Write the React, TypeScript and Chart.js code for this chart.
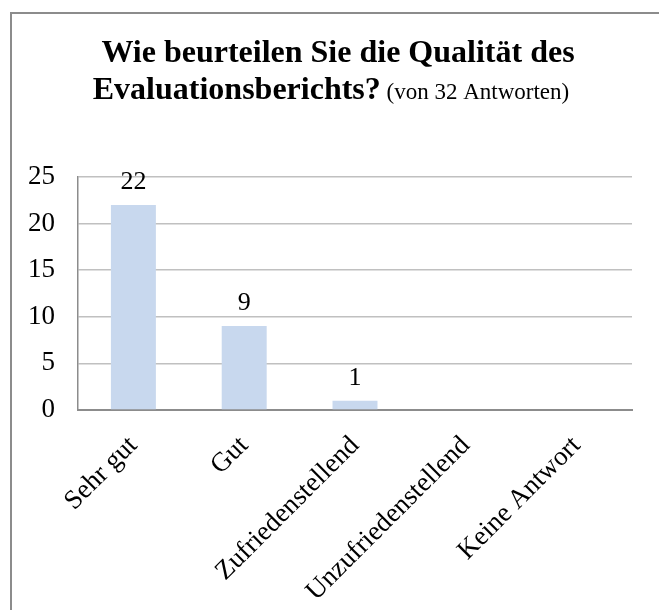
import React, { useEffect, useRef } from 'react';
import { Chart, registerables } from 'chart.js';

Chart.register(...registerables);

const categories = ['Sehr gut', 'Gut', 'Zufriedenstellend', 'Unzufriedenstellend', 'Keine Antwort'];
const counts = [22, 9, 1, 0, 0];
const yTickValues = [0, 5, 10, 15, 20, 25];
const titleLine1 = 'Wie beurteilen Sie die Qualität des';
const titleLine2Bold = 'Evaluationsberichts?';
const titleLine2Normal = '(von 32 Antworten)';

const FONT = '"Liberation Serif", "Times New Roman", Times, serif';
const W = 659;
const H = 610;

const framePlugin = {
  id: 'frameAndTitle',
  beforeDraw(chart: any) {
    const ctx = chart.ctx;
    ctx.save();
    ctx.fillStyle = '#ffffff';
    ctx.fillRect(0, 0, chart.width, chart.height);
    ctx.strokeStyle = '#8c8c8c';
    ctx.lineWidth = 2;
    ctx.beginPath();
    ctx.moveTo(11, chart.height);
    ctx.lineTo(11, 13);
    ctx.lineTo(chart.width, 13);
    ctx.stroke();

    ctx.fillStyle = '#000000';
    ctx.textBaseline = 'alphabetic';
    ctx.font = `bold 32px ${FONT}`;
    ctx.textAlign = 'center';
    ctx.fillText(titleLine1, 338, 62);

    ctx.textAlign = 'left';
    const bw = ctx.measureText(titleLine2Bold).width;
    ctx.font = `23px ${FONT}`;
    const sw = ctx.measureText(' ').width;
    const nw = ctx.measureText(titleLine2Normal).width;
    const total = bw + sw + nw;
    const x0 = 331 - total / 2;
    ctx.font = `bold 32px ${FONT}`;
    ctx.fillText(titleLine2Bold, x0, 99);
    ctx.font = `23px ${FONT}`;
    ctx.fillText(titleLine2Normal, x0 + bw + sw, 99);
    ctx.restore();
  },
};

const valueLabelPlugin = {
  id: 'valueLabels',
  afterDatasetsDraw(chart: any) {
    const ctx = chart.ctx;
    const meta = chart.getDatasetMeta(0);
    const data = chart.data.datasets[0].data as number[];
    ctx.save();
    ctx.fillStyle = '#000000';
    ctx.font = `26px ${FONT}`;
    ctx.textAlign = 'center';
    ctx.textBaseline = 'alphabetic';
    meta.data.forEach((el: any, i: number) => {
      const v = data[i];
      if (!v) return;
      ctx.fillText(String(v), el.x, el.y - 16);
    });
    ctx.restore();
  },
};

export default function App() {
  const ref = useRef<HTMLCanvasElement | null>(null);

  useEffect(() => {
    if (!ref.current) return;
    const chart = new Chart(ref.current, {
      type: 'bar',
      data: {
        labels: categories,
        datasets: [
          {
            data: counts,
            backgroundColor: '#C8D8EE',
            borderWidth: 0,
            barPercentage: 0.406,
            categoryPercentage: 1,
          },
        ],
      },
      options: {
        responsive: false,
        animation: false,
        devicePixelRatio: 1,
        layout: { padding: { top: 177, right: 27, left: 0, bottom: 0 } },
        plugins: {
          legend: { display: false },
          title: { display: false },
          tooltip: { enabled: false },
        },
        scales: {
          x: {
            grid: { display: false, drawTicks: false },
            border: { display: true, color: '#8c8c8c', width: 2 },
            ticks: {
              color: '#000000',
              font: { family: FONT, size: 27 },
              minRotation: 45,
              maxRotation: 45,
              autoSkip: false,
              padding: 20,
            },
            afterFit: (s: any) => {
              s.height = 200;
            },
          },
          y: {
            min: 0,
            max: 25,
            grid: { color: '#C0C0C0', lineWidth: 1.5, drawTicks: false },
            border: { display: true, color: '#8c8c8c', width: 1.5 },
            ticks: {
              color: '#000000',
              font: { family: FONT, size: 27 },
              padding: 23,
            },
            afterBuildTicks: (s: any) => {
              s.ticks = yTickValues.map((v) => ({ value: v }));
            },
            afterFit: (s: any) => {
              s.width = 78;
            },
          },
        },
      },
      plugins: [framePlugin, valueLabelPlugin],
    });
    return () => chart.destroy();
  }, []);

  return (
    <div style={{ position: 'fixed', left: 0, top: 0, width: W, height: H, background: '#fff' }}>
      <canvas ref={ref} width={W} height={H} style={{ display: 'block', width: W, height: H }} />
    </div>
  );
}
